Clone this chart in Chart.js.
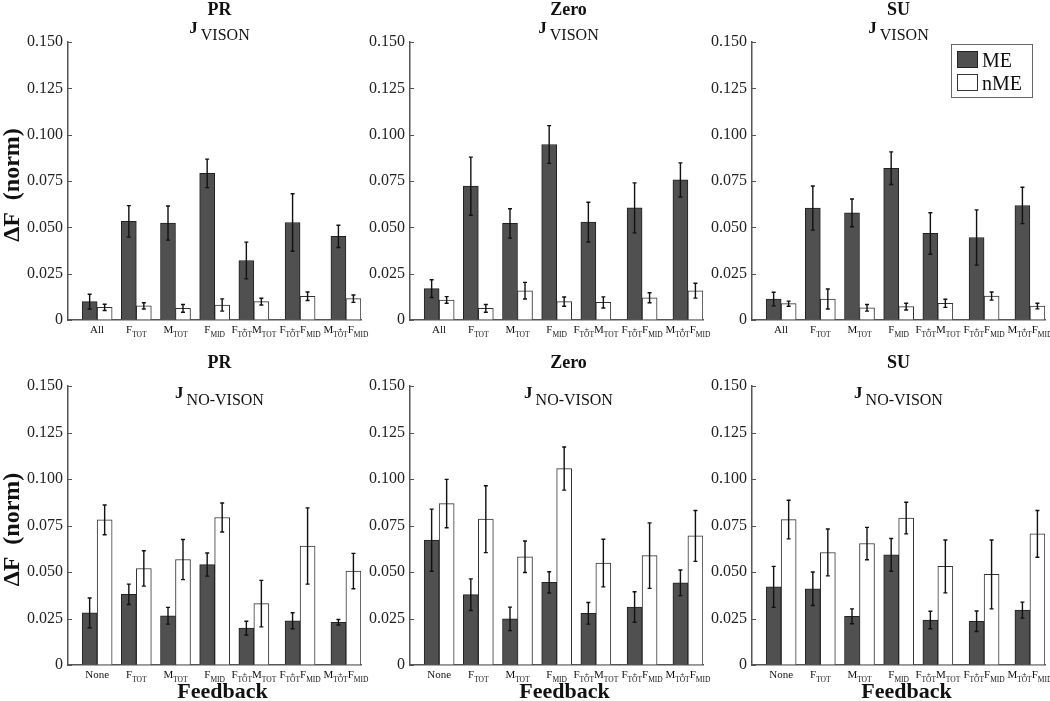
<!DOCTYPE html>
<html>
<head>
<meta charset="utf-8">
<script src="https://cdn.jsdelivr.net/npm/chart.js@4.4.1/dist/chart.umd.min.js"></script>
<style>
  body { margin: 0; background: #fff; }
  #wrap { position: relative; width: 1050px; height: 701px; overflow: hidden; }
  canvas { position: absolute; }
</style>
</head>
<body>
<div id="wrap">
  <canvas id="c1"></canvas><canvas id="c2"></canvas><canvas id="c3"></canvas>
  <canvas id="c4"></canvas><canvas id="c5"></canvas><canvas id="c6"></canvas>
</div>
<script>
// group positions on the x axis (the last two groups sit a little further apart)
const groupPos = [1, 2, 3, 4, 5, 6.18, 7.35];
const visionLabels = ['All', 'F_TOT', 'M_TOT', 'F_MID', 'F_TOT+M_TOT', 'F_TOT+F_MID', 'M_TOT+F_MID'];
const noVisionLabels = ['None', 'F_TOT', 'M_TOT', 'F_MID', 'F_TOT+M_TOT', 'F_TOT+F_MID', 'M_TOT+F_MID'];
const seriesNames = ['ME', 'nME'];
const yMax = 0.15;
const yStep = 0.025;

// J VISON
const prVisME = [0.0099, 0.0532, 0.0523, 0.0791, 0.0321, 0.0526, 0.0451];
const prVisMEErr = [0.0040, 0.0085, 0.0092, 0.0077, 0.0099, 0.0155, 0.0060];
const prVisNME = [0.0068, 0.0076, 0.0063, 0.0081, 0.0099, 0.0128, 0.0115];
const prVisNMEErr = [0.0017, 0.0017, 0.0021, 0.0033, 0.0018, 0.0023, 0.0020];

const zeroVisME = [0.0169, 0.0722, 0.0521, 0.0947, 0.0528, 0.0605, 0.0756];
const zeroVisMEErr = [0.0048, 0.0157, 0.0079, 0.0102, 0.0107, 0.0135, 0.0092];
const zeroVisNME = [0.0108, 0.0063, 0.0158, 0.0099, 0.0095, 0.0120, 0.0158];
const zeroVisNMEErr = [0.0018, 0.0021, 0.0045, 0.0025, 0.0030, 0.0027, 0.0040];

const suVisME = [0.0113, 0.0604, 0.0578, 0.0819, 0.0467, 0.0445, 0.0618];
const suVisMEErr = [0.0037, 0.0119, 0.0075, 0.0088, 0.0112, 0.0149, 0.0098];
const suVisNME = [0.0088, 0.0113, 0.0066, 0.0072, 0.0090, 0.0129, 0.0075];
const suVisNMEErr = [0.0014, 0.0054, 0.0018, 0.0018, 0.0022, 0.0022, 0.0015];

// J NO-VISON
const prNoME = [0.0280, 0.0380, 0.0265, 0.0540, 0.0198, 0.0238, 0.0230];
const prNoMEErr = [0.0080, 0.0055, 0.0045, 0.0062, 0.0037, 0.0043, 0.0015];
const prNoNME = [0.0780, 0.0519, 0.0567, 0.0793, 0.0330, 0.0640, 0.0505];
const prNoNMEErr = [0.0080, 0.0095, 0.0108, 0.0078, 0.0125, 0.0205, 0.0095];

const zeroNoME = [0.0671, 0.0378, 0.0248, 0.0444, 0.0278, 0.0312, 0.0442];
const zeroNoMEErr = [0.0167, 0.0085, 0.0063, 0.0057, 0.0058, 0.0082, 0.0069];
const zeroNoNME = [0.0868, 0.0784, 0.0582, 0.1056, 0.0548, 0.0588, 0.0694];
const zeroNoNMEErr = [0.0130, 0.0180, 0.0085, 0.0116, 0.0128, 0.0176, 0.0137];

const suNoME = [0.0420, 0.0410, 0.0262, 0.0592, 0.0242, 0.0235, 0.0295];
const suNoMEErr = [0.0110, 0.0090, 0.0040, 0.0088, 0.0047, 0.0055, 0.0043];
const suNoNME = [0.0782, 0.0605, 0.0653, 0.0790, 0.0530, 0.0487, 0.0705];
const suNoNMEErr = [0.0104, 0.0126, 0.0087, 0.0085, 0.0142, 0.0185, 0.0126];

const SERIF = '"Liberation Serif", "Times New Roman", serif';
const TEXT = '#111';
const AXIS = '#555';

// panel boxes: canvas position and size, chart area fitted to the reference axes
// (canvases are a bit wider than the axes so the last tick label is not cut)
const cols = [
  { left: 0, width: 378, yWidth: 68, padRight: 17, titleDx: 5 },
  { left: 365, width: 356, yWidth: 45, padRight: 18, titleDx: 12 },
  { left: 708, width: 342, yWidth: 44, padRight: 5, titleDx: 0 }
];
const rows = [
  { top: 0, height: 342, padTop: 42, xHeight: 22, sub: 'VISON', labels: visionLabels,
    titleY: -27, jY: -9, subY: -2 },
  { top: 342, height: 359, padTop: 44, xHeight: 36, sub: 'NO-VISON', labels: noVisionLabels,
    titleY: -18, jY: 12, subY: 19 }
];

const panels = [
  { id: 'c1', col: 0, row: 0, name: 'PR', me: prVisME, meErr: prVisMEErr, nme: prVisNME, nmeErr: prVisNMEErr },
  { id: 'c2', col: 1, row: 0, name: 'Zero', me: zeroVisME, meErr: zeroVisMEErr, nme: zeroVisNME, nmeErr: zeroVisNMEErr },
  { id: 'c3', col: 2, row: 0, name: 'SU', me: suVisME, meErr: suVisMEErr, nme: suVisNME, nmeErr: suVisNMEErr, legend: true },
  { id: 'c4', col: 0, row: 1, name: 'PR', me: prNoME, meErr: prNoMEErr, nme: prNoNME, nmeErr: prNoNMEErr },
  { id: 'c5', col: 1, row: 1, name: 'Zero', me: zeroNoME, meErr: zeroNoMEErr, nme: zeroNoNME, nmeErr: zeroNoNMEErr },
  { id: 'c6', col: 2, row: 1, name: 'SU', me: suNoME, meErr: suNoMEErr, nme: suNoNME, nmeErr: suNoNMEErr }
];

function drawCatLabel(ctx, text, cx, base) {
  const mainFont = '11px ' + SERIF;
  const subFont = '7.5px ' + SERIF;
  const parts = text.split('+').map(p => p.split('_'));
  const pieces = [];
  let w = 0;
  parts.forEach(p => {
    ctx.font = mainFont;
    const mw = ctx.measureText(p[0]).width;
    ctx.font = subFont;
    const sw = p[1] ? ctx.measureText(p[1]).width : 0;
    pieces.push({ main: p[0], sub: p[1], mw, sw });
    w += mw + sw;
  });
  let x = cx - w / 2;
  ctx.fillStyle = TEXT;
  ctx.textAlign = 'left';
  ctx.textBaseline = 'alphabetic';
  pieces.forEach((pc, k) => {
    ctx.font = mainFont;
    ctx.fillText(pc.main, x, base);
    x += pc.mw;
    if (pc.sub) {
      ctx.font = subFont;
      ctx.fillText(pc.sub, x, base + 4);
      if (k < pieces.length - 1) {
        ctx.textAlign = 'center';
        ctx.fillText('+', x + pc.sw / 2, base - 1);
        ctx.textAlign = 'left';
      }
      x += pc.sw;
    }
  });
}

const panelPlugin = {
  id: 'panelPlugin',
  afterDatasetsDraw(chart) {
    const ctx = chart.ctx;
    const y = chart.scales.y;
    ctx.save();
    ctx.strokeStyle = '#111';
    ctx.lineWidth = 1.4;
    chart.data.datasets.forEach((ds, d) => {
      chart.getDatasetMeta(d).data.forEach((bar, i) => {
        const v = ds.data[i].y;
        const e = ds.err[i];
        const yt = y.getPixelForValue(v + e);
        const yb = y.getPixelForValue(v - e);
        ctx.beginPath();
        ctx.moveTo(bar.x, yt); ctx.lineTo(bar.x, yb);
        ctx.moveTo(bar.x - 2, yt); ctx.lineTo(bar.x + 2, yt);
        ctx.moveTo(bar.x - 2, yb); ctx.lineTo(bar.x + 2, yb);
        ctx.stroke();
      });
    });
    ctx.restore();
  },
  afterDraw(chart) {
    const p = chart.options.plugins.panelPlugin;
    const col = cols[p.col], row = rows[p.row];
    const ctx = chart.ctx;
    const a = chart.chartArea;
    const xs = chart.scales.x, ys = chart.scales.y;
    ctx.save();

    // inward y ticks
    ctx.strokeStyle = AXIS;
    ctx.lineWidth = 1;
    ys.ticks.forEach(t => {
      const py = Math.round(ys.getPixelForValue(t.value)) + 0.5;
      ctx.beginPath(); ctx.moveTo(a.left, py); ctx.lineTo(a.left + 4, py); ctx.stroke();
    });

    // titles
    const cx = (a.left + a.right) / 2 + col.titleDx;
    ctx.fillStyle = TEXT;
    ctx.textBaseline = 'alphabetic';
    ctx.textAlign = 'center';
    ctx.font = 'bold 18px ' + SERIF;
    ctx.fillText(p.name, cx, a.top + row.titleY);
    ctx.font = 'bold 17px ' + SERIF;
    const jw = ctx.measureText('J').width;
    ctx.font = '16px ' + SERIF;
    const sw = ctx.measureText(row.sub).width;
    const start = cx - (jw + 3 + sw) / 2;
    ctx.textAlign = 'left';
    ctx.font = 'bold 17px ' + SERIF;
    ctx.fillText('J', start, a.top + row.jY);
    ctx.font = '16px ' + SERIF;
    ctx.fillText(row.sub, start + jw + 3, a.top + row.subY);

    // category labels
    row.labels.forEach((lab, i) => {
      drawCatLabel(ctx, lab, xs.getPixelForValue(groupPos[i]), a.bottom + 13);
    });

    // axis titles
    if (p.col === 0) {
      ctx.save();
      ctx.translate(13, (a.top + a.bottom) / 2 + 4);
      ctx.rotate(-Math.PI / 2);
      ctx.textAlign = 'center';
      ctx.textBaseline = 'middle';
      ctx.font = 'bold 24px ' + SERIF;
      ctx.fillStyle = TEXT;
      ctx.fillText('\u0394F  (norm)', 0, 0);
      ctx.restore();
    }
    if (p.row === 1) {
      ctx.textAlign = 'center';
      ctx.font = 'bold 22px ' + SERIF;
      ctx.fillText('Feedback', (a.left + a.right) / 2 + 8, a.bottom + 33);
    }

    // legend box
    if (p.legend) {
      const bw = 81, bh = 53;
      const bx = a.right - 13 - bw, by = a.top + 2;
      ctx.fillStyle = '#fff';
      ctx.fillRect(bx, by, bw, bh);
      ctx.strokeStyle = '#666';
      ctx.lineWidth = 1;
      ctx.strokeRect(bx + 0.5, by + 0.5, bw, bh);
      chart.data.datasets.forEach((ds, d) => {
        const sy = by + 7 + d * 23;
        ctx.fillStyle = ds.backgroundColor;
        ctx.fillRect(bx + 6, sy, 20, 16);
        ctx.strokeStyle = ds.borderColor;
        ctx.strokeRect(bx + 6.5, sy + 0.5, 20, 16);
        ctx.fillStyle = TEXT;
        ctx.textAlign = 'left';
        ctx.font = '20px ' + SERIF;
        ctx.fillText(ds.label, bx + 31, sy + 16);
      });
    }
    ctx.restore();
  }
};

panels.forEach(p => {
  const col = cols[p.col], row = rows[p.row];
  const canvas = document.getElementById(p.id);
  canvas.width = col.width;
  canvas.height = row.height;
  canvas.style.left = col.left + 'px';
  canvas.style.top = row.top + 'px';
  canvas.style.width = col.width + 'px';
  canvas.style.height = row.height + 'px';

  new Chart(canvas, {
    type: 'bar',
    data: {
      datasets: [
        { label: seriesNames[0], data: groupPos.map((x, i) => ({ x, y: p.me[i] })), err: p.meErr,
          backgroundColor: '#505050', borderColor: '#222', borderWidth: 1, barThickness: 15 },
        { label: seriesNames[1], data: groupPos.map((x, i) => ({ x, y: p.nme[i] })), err: p.nmeErr,
          backgroundColor: '#ffffff', borderColor: '#333', borderWidth: 1, barThickness: 15 }
      ]
    },
    options: {
      responsive: false,
      animation: false,
      devicePixelRatio: 1,
      layout: { padding: { left: 0, right: col.padRight, top: row.padTop, bottom: 0 } },
      plugins: {
        legend: { display: false },
        tooltip: { enabled: false },
        panelPlugin: { col: p.col, row: p.row, name: p.name, legend: !!p.legend }
      },
      scales: {
        x: {
          type: 'linear', min: 0.256, max: 7.735, offset: false,
          grid: { display: true, drawOnChartArea: false, drawTicks: false, offset: false },
          border: { display: true, color: AXIS, width: 1.5 },
          ticks: { display: false },
          afterFit: s => { s.height = row.xHeight; }
        },
        y: {
          min: 0, max: yMax,
          grid: { display: true, drawOnChartArea: false, drawTicks: false },
          border: { display: true, color: AXIS, width: 1.5 },
          ticks: {
            stepSize: yStep, padding: 5, color: '#222',
            font: { family: SERIF, size: 16 },
            callback: v => (Math.abs(v) < 1e-9 ? '0' : v.toFixed(3))
          },
          afterFit: s => { s.width = col.yWidth; }
        }
      }
    },
    plugins: [panelPlugin]
  });
});
</script>
</body>
</html>
